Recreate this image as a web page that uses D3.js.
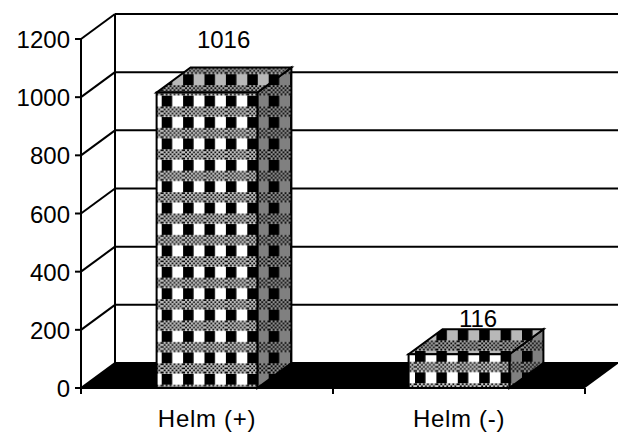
<!DOCTYPE html>
<html><head><meta charset="utf-8">
<script src="https://cdn.jsdelivr.net/npm/d3@7"></script>
<style>html,body{margin:0;padding:0;background:#fff}svg{display:block}text{font-family:"Liberation Sans",Arial,sans-serif;font-size:24px;fill:#000}</style>
</head><body><svg id="c" width="618" height="432"></svg>
<script>
const categories = ["Helm (+)", "Helm (-)"];
const values = [1016, 116];
const yTicks = [0, 200, 400, 600, 800, 1000, 1200];

const dx = 34, dy = -25;
const svg = d3.select("#c");
const x = d3.scaleBand().domain(categories).range([81, 585]).paddingInner(0.6).paddingOuter(0.3);
const y = d3.scaleLinear().domain([0, 1200]).range([388, 39]);
const defs = svg.append("defs");

function makePattern(id, bg, dot, tx, ty) {
  const P = 21.4;
  const p = defs.append("pattern").attr("id", id).attr("patternUnits", "userSpaceOnUse")
    .attr("width", P).attr("height", P).attr("patternTransform", `translate(${tx},${ty})`);
  p.append("rect").attr("width", P).attr("height", P).attr("fill", bg);
  p.append("rect").attr("x", 0).attr("y", 0).attr("width", 10.5).attr("height", 11).attr("fill", "#000");
  for (let i = 0; i < 11; i++) for (let j = 0; j < 5; j++) {
    p.append("rect").attr("x", i * 2).attr("y", 11 + j * 2).attr("width", 2).attr("height", 2)
      .attr("fill", (i + j) % 2 === 0 ? "#000" : dot);
  }
}
[["", 161.7, 95.7], ["2", 415, 351]].forEach(([s, tx, ty]) => {
  makePattern("front" + s, "#fff", "#c4c4c4", tx, ty);
  makePattern("side" + s, "#808080", "#9a9a9a", tx, ty);
  makePattern("top" + s, "#b8b8b8", "#a8a8a8", tx, ty);
});

const line = (x1, y1, x2, y2, w = 2) => svg.append("line").attr("x1", x1).attr("y1", y1).attr("x2", x2).attr("y2", y2)
  .attr("stroke", "#000").attr("stroke-width", w);

const left = x.range()[0], right = x.range()[1];
// floor
svg.append("polygon").attr("fill", "#000")
  .attr("points", [[left, y(0)], [left + dx, y(0) + dy], [right + dx, y(0) + dy], [right, y(0)]].join(" "));
// walls and gridlines
yTicks.forEach(t => {
  line(left, y(t), left + dx, y(t) + dy);
  line(left + dx, y(t) + dy, 618, y(t) + dy);
});
line(left + dx, y(0) + dy, left + dx, y(1200) + dy);

// bars
categories.forEach((c, i) => {
  const v = values[i], x0 = x(c), x1 = x0 + x.bandwidth(), y0 = y(0), yt = y(v);
  const suffix = i === 0 ? "" : "2";
  const poly = (pts, fill) => svg.append("polygon").attr("points", pts.join(" "))
    .attr("fill", `url(#${fill}${suffix})`).attr("stroke", "#000").attr("stroke-width", 2).attr("stroke-linejoin", "miter");
  poly([[x1, y0], [x1 + dx, y0 + dy], [x1 + dx, yt + dy], [x1, yt]], "side");
  poly([[x0, yt], [x1, yt], [x1 + dx, yt + dy], [x0 + dx, yt + dy]], "top");
  poly([[x0, y0], [x1, y0], [x1, yt], [x0, yt]], "front");
  svg.append("text").attr("x", i === 0 ? x0 + 67 : x0 + 69.5).attr("y", yt + (i === 0 ? -44.5 : -27)).attr("text-anchor", "middle").text(v);
});

// axes
line(left, y(0), left, y(1200));
line(left - 6, y(0), right, y(0));
yTicks.forEach(t => {
  line(left - 6, y(t), left, y(t));
  svg.append("text").attr("x", left - 11).attr("y", y(t) + 9).attr("text-anchor", "end").text(t);
});
[left, left + x.step(), right].forEach(px => line(px, y(0), px, y(0) + 6));
categories.forEach(c => {
  svg.append("text").attr("x", x(c) + x.bandwidth() / 2).attr("y", 427).attr("text-anchor", "middle")
    .style("letter-spacing", "0.7px").text(c);
});
</script></body></html>
